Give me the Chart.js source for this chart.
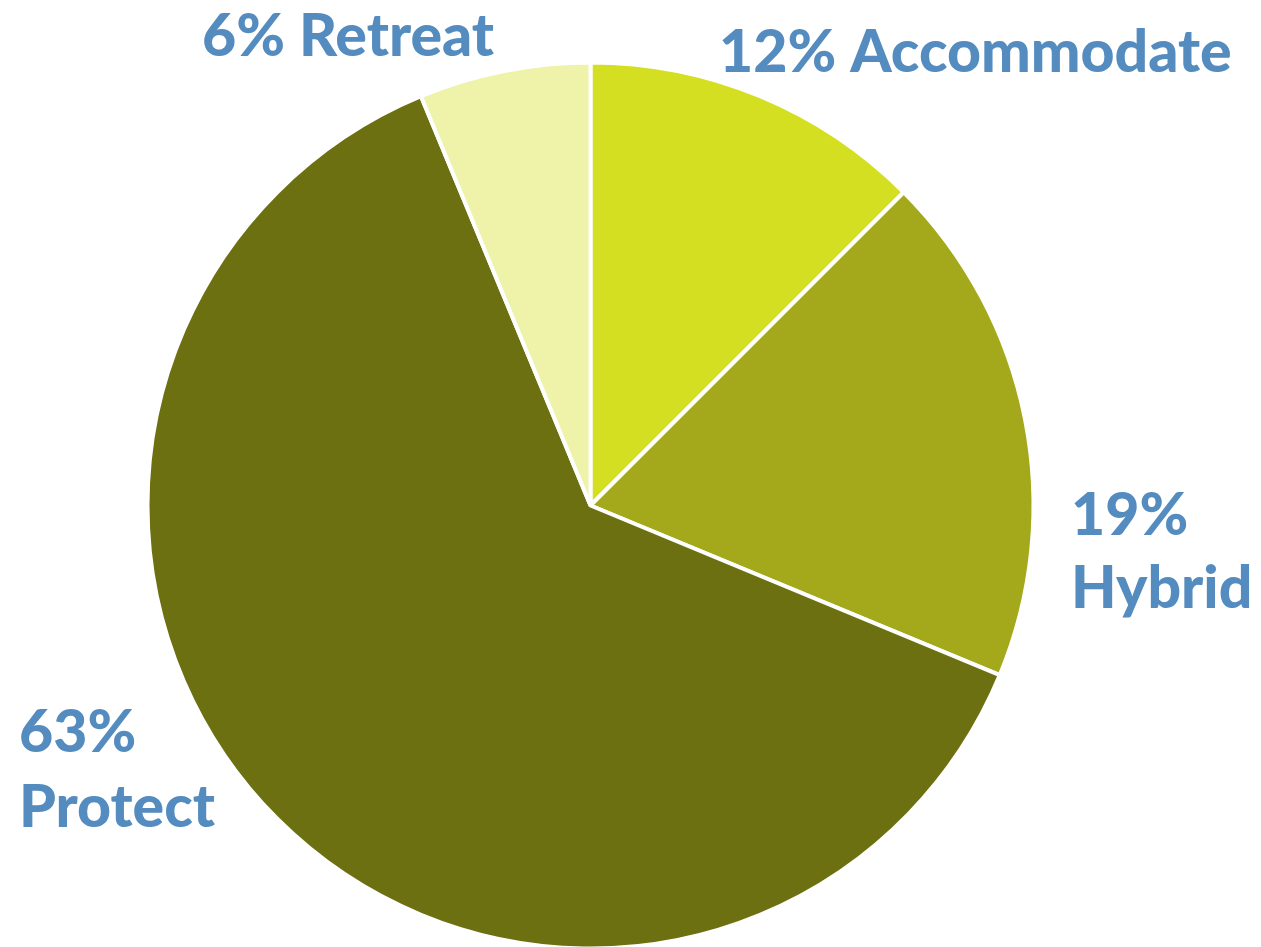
<!DOCTYPE html>
<html>
<head>
<meta charset="utf-8">
<script src="https://cdn.jsdelivr.net/npm/chart.js@4"></script>
<style>
  html, body { margin: 0; padding: 0; background: #fff; }
  #wrap { width: 1261px; height: 947px; position: relative; }
</style>
</head>
<body>
<div id="wrap"><canvas id="pie"></canvas></div>
<script>
const categories = ['Accommodate', 'Hybrid', 'Protect', 'Retreat']
const shares = [12.5, 18.75, 62.5, 6.25]
const shareLabels = ['12%', '19%', '63%', '6%']
const sliceColors = ['#d5df21', '#a3a91b', '#6d7011', '#eff2a9']

// where each label sits (left x, baseline y per line)
const labelLayout = [
  { x: 719, y: [72], oneLine: true },
  { x: 1071, y: [535, 608] },
  { x: 19, y: [752, 827] },
  { x: 202, y: [56], oneLine: true }
]

const sliceLabels = {
  id: 'sliceLabels',
  afterDatasetsDraw(chart) {
    const ctx = chart.ctx
    ctx.save()
    ctx.fillStyle = '#548cc0'
    ctx.font = '900 59px Lato'
    ctx.textAlign = 'left'
    ctx.textBaseline = 'alphabetic'
    categories.forEach((name, i) => {
      const pos = labelLayout[i]
      if (pos.oneLine) {
        ctx.fillText(shareLabels[i] + ' ' + name, pos.x, pos.y[0])
      } else {
        ctx.fillText(shareLabels[i], pos.x, pos.y[0])
        ctx.fillText(name, pos.x, pos.y[1])
      }
    })
    ctx.restore()
  }
}

new Chart(document.getElementById('pie').getContext('2d'), {
  type: 'pie',
  data: {
    labels: categories,
    datasets: [{
      data: shares,
      backgroundColor: sliceColors,
      borderColor: '#ffffff',
      borderWidth: 4
    }]
  },
  options: {
    responsive: true,
    maintainAspectRatio: false,
    animation: false,
    radius: 443,
    layout: { padding: { top: 64, bottom: 0, left: 149, right: 229 } },
    plugins: {
      legend: { display: false },
      tooltip: { enabled: false }
    }
  },
  plugins: [sliceLabels]
})
</script>
</body>
</html>
